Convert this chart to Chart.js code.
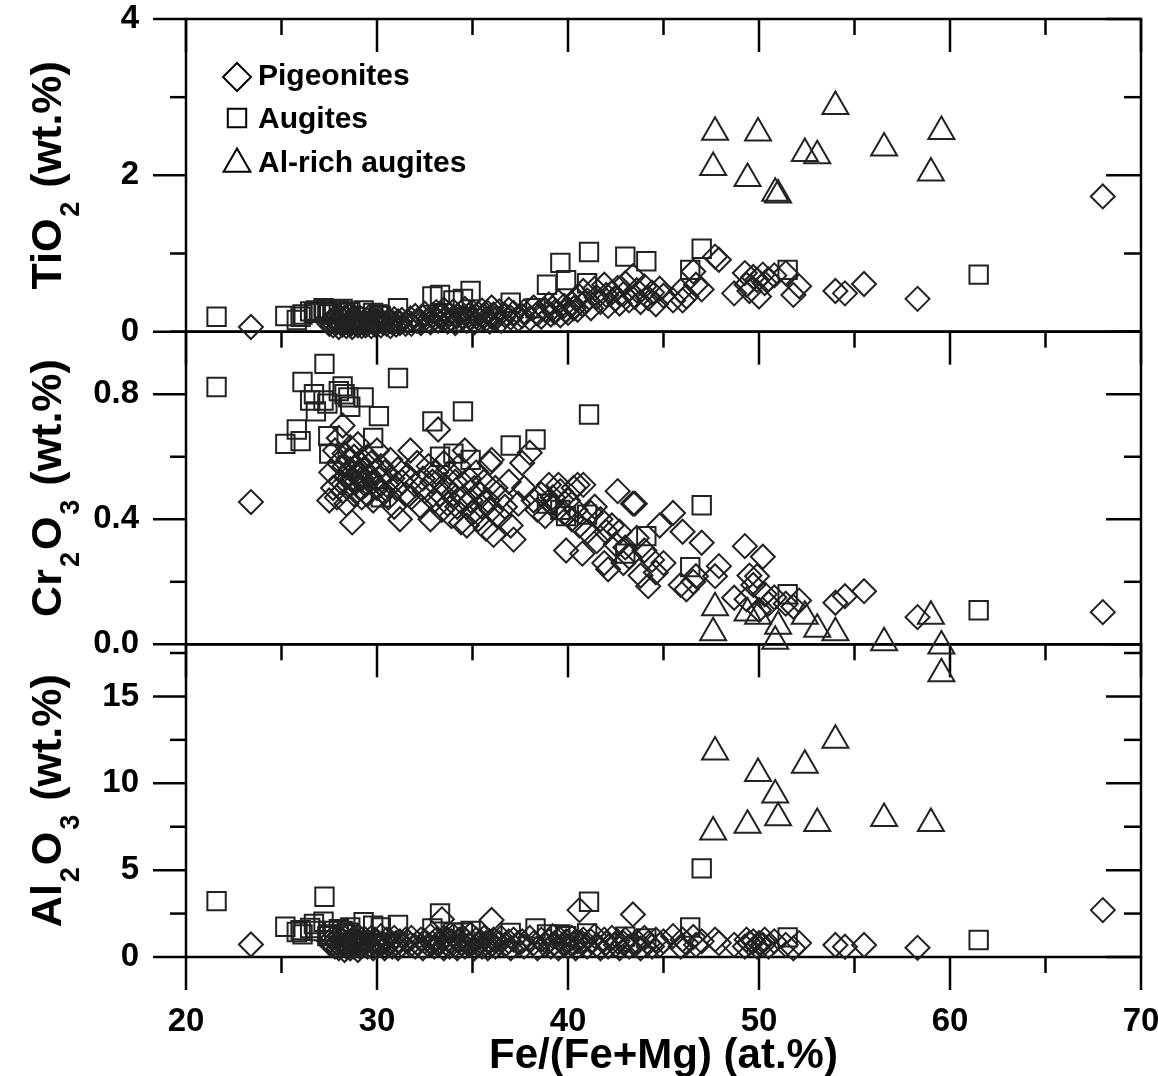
<!DOCTYPE html>
<html>
<head>
<meta charset="utf-8">
<script src="https://cdn.jsdelivr.net/npm/chart.js@4.4.1/dist/chart.umd.min.js"></script>
<style>
  html, body { margin: 0; padding: 0; background: #fff; }
  canvas { display: block; }
</style>
</head>
<body>
<canvas id="pyroxenes" width="1158" height="1076"></canvas>
<script>
const FONT = '"Liberation Sans", Arial, Helvetica, sans-serif';

const seriesNames = ['Pigeonites', 'Augites', 'Al-rich augites'];

// tick values
const feTicks = [20, 30, 40, 50, 60, 70];
const feMinorTicks = [25, 35, 45, 55, 65];
const tiTicks = [0, 2, 4];
const tiMinorTicks = [1, 3];
const crTicks = [0, 0.4, 0.8];
const crMinorTicks = [0.2, 0.6, 1.0];
const alTicks = [0, 5, 10, 15];
const alMinorTicks = [2.5, 7.5, 12.5, 17.5];

// pigeonites: Fe/(Fe+Mg), TiO2, Cr2O3, Al2O3
const pigFe = [
  23.4,
  27.5, 27.6, 27.7, 27.8, 27.9, 28.0, 28.0, 28.1, 28.2, 28.2,
  28.3, 28.3, 28.4, 28.4, 28.5, 28.5, 28.6, 28.6, 28.7, 28.7,
  28.8, 28.8, 28.9, 28.9, 29.0, 29.0, 29.1, 29.1, 29.2, 29.2,
  29.3, 29.4, 29.5, 29.5, 29.6, 29.7, 29.8, 29.8, 29.9, 30.0,
  30.0, 30.1, 30.2, 30.3, 30.4, 30.5, 30.6, 30.7, 30.8, 30.9,
  31.0, 31.1, 31.2, 31.3, 31.5,
  31.6, 31.75, 31.8, 32.0, 32.1, 32.3, 32.4, 32.5, 32.7, 32.8,
  32.9, 33.0, 33.1, 33.2, 33.3, 33.4, 33.5, 33.5,
  33.6, 33.7, 33.8, 33.9, 34.0, 34.1, 34.2, 34.3, 34.4, 34.5,
  34.6, 34.7, 34.8, 34.9, 35.0, 35.1, 35.2, 35.3, 35.4, 35.5,
  35.6, 35.7, 35.8, 35.9, 36.0, 36.0, 36.1, 36.2, 36.4, 36.5,
  36.7, 36.9, 37.0, 37.15, 37.4,
  37.6, 37.7, 38.0, 38.2, 38.4, 38.6, 38.8, 39.0, 39.1, 39.2,
  39.3, 39.5, 39.6, 39.8, 39.9, 40.0, 40.2, 40.3, 40.4, 40.5,
  40.6, 40.75, 40.8, 41.0, 41.2, 41.4, 41.5, 41.7, 41.9, 42.0,
  42.1, 42.3, 42.5, 42.6, 42.7, 42.9, 43.0, 43.2, 43.4, 43.5,
  43.6, 43.8, 44.0, 44.2, 44.4, 44.6, 44.8, 45.0, 45.5, 45.9,
  46.0, 46.2, 46.56, 46.7, 47.0, 47.7, 47.9, 48.7, 49.26, 49.35,
  49.5, 49.7, 49.9, 50.0, 50.2, 50.3, 50.5, 50.8, 51.4, 51.8, 52.1,
  54.0, 54.5, 55.5, 58.3, 68.0
];
const pigTi = [
  0.06,
  0.10, 0.14, 0.08, 0.17, 0.12, 0.06, 0.20, 0.11, 0.15, 0.09,
  0.18, 0.13, 0.07, 0.16, 0.11, 0.21, 0.09, 0.14, 0.17, 0.06,
  0.12, 0.19, 0.10, 0.15, 0.08, 0.13, 0.18, 0.11, 0.07, 0.16,
  0.12, 0.08, 0.15, 0.10, 0.19, 0.07, 0.13, 0.17, 0.09, 0.14,
  0.11, 0.16, 0.08, 0.12, 0.18, 0.10, 0.14, 0.07, 0.12, 0.16,
  0.09, 0.13, 0.11, 0.15, 0.10,
  0.13, 0.17, 0.10, 0.20, 0.14, 0.11, 0.18, 0.23, 0.15, 0.12,
  0.21, 0.17, 0.25, 0.14, 0.19, 0.22, 0.16, 0.28,
  0.18, 0.13, 0.22, 0.16, 0.26, 0.11, 0.20, 0.15, 0.24, 0.18,
  0.29, 0.14, 0.21, 0.17, 0.25, 0.12, 0.19, 0.23, 0.15, 0.27,
  0.20, 0.16, 0.24, 0.13, 0.31, 0.19, 0.22, 0.17, 0.26, 0.14,
  0.21, 0.28, 0.18, 0.24, 0.16,
  0.20, 0.26, 0.17, 0.31, 0.23, 0.19, 0.28, 0.35, 0.22, 0.30,
  0.25, 0.38, 0.21, 0.33, 0.27, 0.24, 0.36, 0.30, 0.42, 0.28,
  0.45, 0.35, 0.52, 0.40, 0.30, 0.55, 0.44, 0.38, 0.60, 0.47,
  0.33, 0.50, 0.42, 0.56, 0.36, 0.48, 0.62, 0.40, 0.71, 0.45,
  0.53, 0.38, 0.58, 0.43, 0.50, 0.35, 0.55, 0.46, 0.40, 0.52,
  0.40, 0.45, 0.77, 0.60, 0.54, 0.96, 0.92, 0.49, 0.75, 0.60,
  0.52, 0.70, 0.66, 0.45, 0.73, 0.62, 0.67, 0.72, 0.75, 0.47, 0.58,
  0.52, 0.49, 0.61, 0.42, 1.73
];
const pigCr = [
  0.455,
  0.46, 0.55, 0.50, 0.62, 0.47, 0.58, 0.66, 0.52, 0.70, 0.49,
  0.57, 0.61, 0.54, 0.45, 0.59, 0.51, 0.63, 0.56, 0.39, 0.53,
  0.60, 0.48, 0.57, 0.52, 0.55, 0.64, 0.50, 0.58, 0.53, 0.47,
  0.56, 0.51, 0.60, 0.48, 0.54, 0.58, 0.52, 0.46, 0.55, 0.50,
  0.62, 0.53, 0.57, 0.49, 0.55, 0.51, 0.47, 0.59, 0.53, 0.44,
  0.50, 0.56, 0.40, 0.52, 0.48,
  0.54, 0.62, 0.47, 0.51, 0.58, 0.44, 0.53, 0.49, 0.57, 0.40,
  0.52, 0.46, 0.55, 0.687, 0.48, 0.43, 0.51, 0.58,
  0.50, 0.45, 0.55, 0.41, 0.48, 0.52, 0.44, 0.57, 0.39, 0.47,
  0.62, 0.38, 0.53, 0.46, 0.42, 0.50, 0.55, 0.40, 0.48, 0.44,
  0.52, 0.37, 0.46, 0.58, 0.59, 0.43, 0.35, 0.50, 0.41, 0.47,
  0.44, 0.52, 0.38, 0.335, 0.45,
  0.58, 0.50, 0.613, 0.46, 0.43, 0.48, 0.41, 0.51, 0.45, 0.47,
  0.44, 0.51, 0.49, 0.42, 0.30, 0.46, 0.40, 0.50, 0.43, 0.51,
  0.38, 0.29, 0.51, 0.36, 0.42, 0.44, 0.33, 0.40, 0.26, 0.36,
  0.24, 0.38, 0.32, 0.49, 0.36, 0.26, 0.31, 0.28, 0.45, 0.45,
  0.34, 0.22, 0.30, 0.186, 0.27, 0.23, 0.38, 0.26, 0.42, 0.19,
  0.36, 0.176, 0.20, 0.218, 0.325, 0.218, 0.25, 0.149, 0.314, 0.144,
  0.22, 0.19, 0.218, 0.11, 0.28, 0.16, 0.13, 0.15, 0.13, 0.12, 0.14,
  0.133, 0.154, 0.17, 0.087, 0.103
];
const pigAl = [
  0.72,
  0.9, 0.7, 1.1, 0.6, 0.8, 1.2, 0.5, 1.0, 0.7, 0.9,
  0.4, 1.1, 0.8, 0.6, 1.3, 0.7, 0.9, 0.5, 1.0, 0.8,
  0.6, 1.1, 0.7, 0.9, 0.4, 1.2, 0.8, 0.6, 1.0, 0.7,
  0.8, 1.0, 0.6, 0.9, 0.7, 1.1, 0.5, 0.8, 1.0, 0.6,
  0.9, 0.7, 1.2, 0.8, 0.5, 1.0, 0.7, 0.9, 0.6, 1.1,
  0.8, 0.5, 0.9, 0.7, 1.0,
  0.9, 0.7, 1.1, 0.6, 0.8, 1.0, 0.5, 0.9, 0.7, 1.2,
  0.8, 0.6, 1.0, 0.7, 0.9, 2.17, 0.5, 1.1,
  0.8, 1.0, 0.6, 0.9, 1.2, 0.7, 0.5, 1.0, 0.8, 1.1,
  0.6, 0.9, 0.7, 1.3, 0.8, 0.5, 1.0, 0.7, 0.9, 0.6,
  1.1, 0.8, 0.5, 0.9, 2.13, 0.7, 1.0, 0.6, 0.8, 1.1,
  0.7, 0.9, 0.5, 1.0, 0.8,
  0.9, 0.6, 1.1, 0.8, 0.5, 1.0, 0.7, 0.9, 0.6, 1.2,
  0.8, 0.5, 1.0, 0.7, 0.9, 0.6, 1.1, 0.8, 0.5, 0.9,
  2.7, 0.8, 1.0, 0.6, 0.9, 1.2, 0.7, 0.5, 1.0, 0.8,
  0.6, 1.1, 0.7, 0.9, 0.5, 0.8, 1.0, 0.6, 2.45, 0.7,
  0.9, 0.5, 1.1, 0.8, 0.6, 1.0, 0.7, 0.9, 1.2, 0.6,
  1.0, 0.8, 1.15, 0.7, 0.9, 1.0, 0.8, 0.7, 0.6, 1.0,
  0.8, 0.9, 0.6, 0.8, 0.7, 1.0, 0.6, 0.9, 0.7, 0.5, 0.8,
  0.69, 0.59, 0.69, 0.53, 2.7
];

// augites
const augFe = [
  21.6, 25.2, 25.8, 26.0, 26.1, 26.5, 26.7, 26.8, 27.2, 27.25,
  27.4, 27.45, 27.5, 28.0, 28.2, 28.3, 28.5, 28.6, 29.3, 29.8,
  30.1, 30.2, 31.1, 32.9, 33.3, 34.0, 34.5, 34.9, 37.0, 38.3,
  38.9, 39.6, 39.9, 41.0, 41.1, 43.0, 44.1, 46.4, 47.0, 51.5,
  61.5
];
const augTi = [
  0.19, 0.20, 0.15, 0.19, 0.22, 0.26, 0.24, 0.27, 0.30, 0.28,
  0.26, 0.24, 0.22, 0.27, 0.29, 0.24, 0.26, 0.25, 0.27, 0.24,
  0.22, 0.20, 0.30, 0.45, 0.47, 0.40, 0.42, 0.52, 0.37, 0.30,
  0.60, 0.88, 0.66, 0.62, 1.02, 0.96, 0.90, 0.79, 1.06, 0.79,
  0.73
];
const augCr = [
  0.823, 0.641, 0.687, 0.65, 0.839, 0.78, 0.80, 0.745, 0.78, 0.897,
  0.77, 0.666, 0.61, 0.81, 0.825, 0.80, 0.79, 0.76, 0.79, 0.66,
  0.73, 0.47, 0.852, 0.713, 0.60, 0.61, 0.745, 0.59, 0.636, 0.655,
  0.45, 0.43, 0.41, 0.415, 0.735, 0.29, 0.346, 0.247, 0.445, 0.16,
  0.109
];
const augAl = [
  3.22, 1.74, 1.44, 1.55, 1.3, 1.67, 1.9, 1.5, 2.03, 3.47,
  1.2, 1.5, 1.3, 1.6, 1.5, 1.3, 1.4, 1.7, 2.0, 1.8,
  0.8, 1.7, 1.84, 1.65, 2.51, 1.4, 1.4, 1.5, 1.38, 1.65,
  1.3, 1.3, 1.2, 1.36, 3.18, 1.17, 1.07, 1.7, 5.1, 1.13,
  0.98
];

// Al-rich augites
const alaFe = [47.6, 47.7, 49.4, 49.95, 50.85, 51.0, 52.4, 53.05, 54.0, 56.55, 59.0, 59.55];
const alaTi = [2.10, 2.55, 1.96, 2.54, 1.77, 1.75, 2.28, 2.25, 2.88, 2.35, 2.03, 2.56];
const alaCr = [0.037, 0.117, 0.10, 0.09, 0.01, 0.058, 0.09, 0.048, 0.037, 0.005, 0.09, -0.005];
const alaAl = [7.2, 11.8, 7.59, 10.56, 9.32, 8.01, 11.04, 7.69, 12.48, 7.97, 7.69, 16.3];

const groups = [
  [pigFe, pigTi, pigCr, pigAl],
  [augFe, augTi, augCr, augAl],
  [alaFe, alaTi, alaCr, alaAl]
];
const markers = [
  { style: 'rectRot', radius: 12, legendRadius: 14 },
  { style: 'rect', radius: 13, legendRadius: 13 },
  { style: 'triangle', radius: 15, legendRadius: 15.5 }
];
const axisIds = ['yTi', 'yCr', 'yAl'];

function pts(xs, ys) {
  return xs.map((x, i) => ({ x: x, y: ys[i] }));
}

const datasets = [];
axisIds.forEach((id, a) => {
  groups.forEach((g, s) => {
    datasets.push({
      label: seriesNames[s],
      data: pts(g[0], g[a + 1]),
      yAxisID: id,
      pointStyle: markers[s].style,
      pointRadius: markers[s].radius,
      pointHoverRadius: markers[s].radius,
      borderColor: '#222',
      backgroundColor: 'rgba(0,0,0,0)',
      borderWidth: 2,
      clip: false
    });
  });
});

function line(ctx, x1, y1, x2, y2) {
  ctx.beginPath();
  ctx.moveTo(x1, y1);
  ctx.lineTo(x2, y2);
  ctx.stroke();
}

// frames and tick marks, inside and outside like the original
const framePlugin = {
  id: 'frame',
  beforeDatasetsDraw(chart) {
    const ctx = chart.ctx;
    const ca = chart.chartArea;
    const xs = chart.scales.x;
    const panels = [
      ['yTi', tiTicks, tiMinorTicks],
      ['yCr', crTicks, crMinorTicks],
      ['yAl', alTicks, alMinorTicks]
    ];
    ctx.save();
    ctx.strokeStyle = '#000';
    ctx.lineWidth = 2.5;
    panels.forEach(p => {
      const s = chart.scales[p[0]];
      ctx.strokeRect(ca.left, s.top, ca.right - ca.left, s.bottom - s.top);
      p[1].forEach(v => {
        const y = s.getPixelForValue(v);
        line(ctx, ca.left - 33, y, ca.left, y);
        line(ctx, ca.right - 35, y, ca.right, y);
      });
      p[2].forEach(v => {
        const y = s.getPixelForValue(v);
        line(ctx, ca.left - 16, y, ca.left, y);
        line(ctx, ca.right - 17, y, ca.right, y);
      });
      feTicks.forEach(v => {
        const x = xs.getPixelForValue(v);
        line(ctx, x, s.top, x, s.top + 33);
      });
      feMinorTicks.forEach(v => {
        const x = xs.getPixelForValue(v);
        line(ctx, x, s.top, x, s.top + 16);
      });
    });
    feTicks.forEach(v => {
      const x = xs.getPixelForValue(v);
      line(ctx, x, ca.bottom, x, ca.bottom + 33);
    });
    feMinorTicks.forEach(v => {
      const x = xs.getPixelForValue(v);
      line(ctx, x, ca.bottom, x, ca.bottom + 16);
    });
    ctx.restore();
  }
};

function drawRotatedTitle(ctx, parts, baseX, centerY) {
  const main = 'bold 43px ' + FONT;
  const sub = 'bold 27px ' + FONT;
  ctx.save();
  ctx.translate(baseX, centerY);
  ctx.rotate(-Math.PI / 2);
  ctx.fillStyle = '#000';
  ctx.textAlign = 'left';
  ctx.textBaseline = 'alphabetic';
  let total = 0;
  parts.forEach(p => {
    ctx.font = p[1] ? sub : main;
    total += ctx.measureText(p[0]).width + (p[1] ? 4 : 0);
  });
  let x = -total / 2;
  parts.forEach(p => {
    ctx.font = p[1] ? sub : main;
    if (p[1]) x += 2;
    ctx.fillText(p[0], x, p[1] ? 18 : 0);
    x += ctx.measureText(p[0]).width + (p[1] ? 2 : 0);
  });
  ctx.restore();
}

// axis titles with subscripts, and the legend in the top panel
const textPlugin = {
  id: 'texts',
  afterDraw(chart) {
    const ctx = chart.ctx;
    const ca = chart.chartArea;
    const mid = id => (chart.scales[id].top + chart.scales[id].bottom) / 2;
    drawRotatedTitle(ctx, [['TiO', false], ['2', true], [' (wt.%)', false]], 61, mid('yTi'));
    drawRotatedTitle(ctx, [['Cr', false], ['2', true], ['O', false], ['3', true], [' (wt.%)', false]], 61, mid('yCr'));
    drawRotatedTitle(ctx, [['Al', false], ['2', true], ['O', false], ['3', true], [' (wt.%)', false]], 61, mid('yAl'));

    ctx.save();
    ctx.fillStyle = '#000';
    ctx.font = 'bold 42px ' + FONT;
    ctx.textAlign = 'center';
    ctx.textBaseline = 'alphabetic';
    ctx.fillText('Fe/(Fe+Mg) (at.%)', (ca.left + ca.right) / 2, 1068);
    ctx.restore();

    const symbolY = [77, 118, 164];
    const textY = [85, 128, 172];
    ctx.save();
    chart.data.datasets.slice(0, 3).forEach((ds, i) => {
      ctx.strokeStyle = '#000';
      ctx.fillStyle = 'rgba(0,0,0,0)';
      ctx.lineWidth = 2;
      Chart.helpers.drawPoint(ctx, {
        pointStyle: ds.pointStyle,
        radius: markers[i].legendRadius,
        borderWidth: 2,
        rotation: 0
      }, 237, symbolY[i]);
      ctx.fillStyle = '#000';
      ctx.font = 'bold 30px ' + FONT;
      ctx.textAlign = 'left';
      ctx.textBaseline = 'alphabetic';
      ctx.fillText(ds.label, 258, textY[i]);
    });
    ctx.restore();
  }
};

function noPadding(s) {
  s.paddingTop = 0;
  s.paddingBottom = 0;
  s.paddingLeft = 0;
  s.paddingRight = 0;
}

function yAxis(weight, min, max, tickList, fmt) {
  return {
    type: 'linear',
    position: 'left',
    stack: 'panels',
    stackWeight: 1,
    weight: weight,
    min: min,
    max: max,
    offset: false,
    afterFit: s => { s.width = 186; noPadding(s); },
    afterBuildTicks: s => { s.ticks = tickList.map(v => ({ value: v })); },
    grid: { display: false, drawTicks: false },
    border: { display: false },
    ticks: {
      autoSkip: false,
      padding: 47,
      color: '#000',
      font: { family: FONT, size: 33, weight: 'bold' },
      callback: fmt
    }
  };
}

Chart.defaults.font.family = FONT;
Chart.defaults.color = '#000';

new Chart(document.getElementById('pyroxenes').getContext('2d'), {
  type: 'scatter',
  data: { datasets: datasets },
  options: {
    responsive: false,
    animation: false,
    devicePixelRatio: 1,
    events: [],
    layout: { padding: { left: 0, right: 17, top: 19, bottom: 0 } },
    scales: {
      x: {
        type: 'linear',
        position: 'bottom',
        min: 20,
        max: 70,
        afterFit: s => { s.height = 119; noPadding(s); },
        afterBuildTicks: s => { s.ticks = feTicks.map(v => ({ value: v })); },
        grid: { display: false, drawTicks: false },
        border: { display: false },
        ticks: {
          autoSkip: false,
          maxRotation: 0,
          padding: 45,
          color: '#000',
          font: { family: FONT, size: 33, weight: 'bold' }
        }
      },
      yTi: yAxis(3, 0, 4, tiTicks, v => String(v)),
      yCr: yAxis(2, 0, 1, crTicks, v => v.toFixed(1)),
      yAl: yAxis(1, 0, 18, alTicks, v => String(v))
    },
    plugins: {
      legend: { display: false },
      tooltip: { enabled: false }
    }
  },
  plugins: [framePlugin, textPlugin]
});
</script>
</body>
</html>
